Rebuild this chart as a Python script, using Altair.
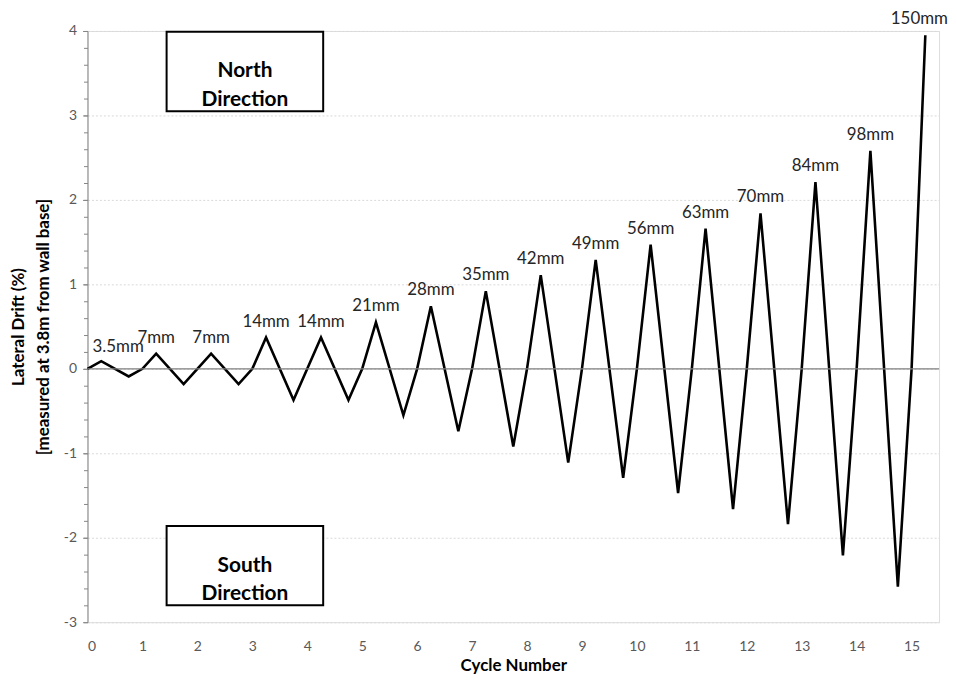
import altair as alt
import pandas as pd

# Cycle position and lateral drift (%)
cycle = [0, 0.25, 0.75, 1, 1.25, 1.75, 2, 2.25, 2.75, 3, 3.25, 3.75, 4, 4.25, 4.75, 5,
         5.25, 5.75, 6, 6.25, 6.75, 7, 7.25, 7.75, 8, 8.25, 8.75, 9, 9.25, 9.75, 10,
         10.25, 10.75, 11, 11.25, 11.75, 12, 12.25, 12.75, 13, 13.25, 13.75, 14,
         14.25, 14.75, 15, 15.25]
drift = [0, 0.09, -0.09, 0, 0.18, -0.18, 0, 0.18, -0.18, 0, 0.37, -0.37, 0, 0.37, -0.37, 0,
         0.55, -0.55, 0, 0.74, -0.74, 0, 0.92, -0.92, 0, 1.11, -1.11, 0, 1.29, -1.29, 0,
         1.47, -1.47, 0, 1.66, -1.66, 0, 1.84, -1.84, 0, 2.21, -2.21, 0,
         2.58, -2.58, 0, 3.95]

# Peak annotations
peak_x = [0.25, 1.25, 2.25, 3.25, 4.25, 5.25, 6.25, 7.25, 8.25, 9.25, 10.25, 11.25,
          12.25, 13.25, 14.25, 15.25]
peak_y = [0.09, 0.18, 0.18, 0.37, 0.37, 0.55, 0.74, 0.92, 1.11, 1.29, 1.47, 1.66,
          1.84, 2.21, 2.58, 3.95]
peak_label = ["3.5mm", "7mm", "7mm", "14mm", "14mm", "21mm", "28mm", "35mm", "42mm",
              "49mm", "56mm", "63mm", "70mm", "84mm", "98mm", "150mm"]

# Direction boxes
box_text = [["North", "Direction"], ["South", "Direction"]]
box_x1 = [1.44, 1.44]
box_x2 = [4.29, 4.29]
box_y1 = [3.05, -2.80]
box_y2 = [3.99, -1.86]

y_ticks = [-3, -2, -1, 0, 1, 2, 3, 4]
y_minor = [round(-3 + 0.2 * i, 1) for i in range(36)]
x_ticks = list(range(16))

FONT = "Lato"
MINUS = "datum.value < 0 ? '-' + abs(datum.value) : '' + datum.value"

df = pd.DataFrame({"cycle": cycle, "drift": drift})
peaks = pd.DataFrame({"x": peak_x, "y": peak_y, "label": peak_label})
boxes = pd.DataFrame({"x1": box_x1, "x2": box_x2, "y1": box_y1, "y2": box_y2,
                      "xc": [(a + b) / 2 for a, b in zip(box_x1, box_x2)],
                      "yc": [(a + b) / 2 for a, b in zip(box_y1, box_y2)],
                      "text": box_text})
zero = pd.DataFrame({"y": [0]})

xscale = alt.Scale(domain=[0, 15.5], nice=False, zero=False)
yscale = alt.Scale(domain=[-3, 4], nice=False)

x_axis = alt.Axis(values=x_ticks, title="Cycle Number", grid=False, ticks=False,
                  domain=False, labelFont=FONT, labelFontSize=14, labelColor="#595959",
                  labelPadding=17, titleFont=FONT, titleFontSize=17, titleFontWeight="bold",
                  titleColor="#000000", titlePadding=5)
y_axis = alt.Axis(values=y_ticks, title=["Lateral Drift (%)", "[measured at 3.8m from wall base]"],
                  grid=True, gridColor="#d9d9d9", gridDash=[2, 2], gridWidth=1,
                  domainColor="#868686", tickColor="#868686", tickSize=5,
                  labelFont=FONT, labelFontSize=14, labelColor="#595959", labelPadding=6,
                  labelExpr=MINUS,
                  titleFont=FONT, titleFontSize=17, titleFontWeight="bold",
                  titleColor="#000000", titlePadding=11, titleLineHeight=25)
y_minor_axis = alt.Axis(values=y_minor, orient="left", title=None, labels=False, grid=False,
                        domain=False, tickColor="#868686", tickSize=4)


def X(field):
    return alt.X(field, scale=xscale, axis=None)


def Y(field):
    return alt.Y(field, scale=yscale, axis=None)


line = alt.Chart(df).mark_line(color="black", strokeWidth=2.6, strokeJoin="miter").encode(
    x=alt.X("cycle:Q", scale=xscale, axis=x_axis),
    y=alt.Y("drift:Q", scale=yscale, axis=y_axis),
    order="cycle:Q",
)

minor = alt.Chart(df).mark_point(opacity=0).encode(
    x=X("cycle:Q"),
    y=alt.Y("drift:Q", scale=yscale, axis=y_minor_axis),
)

zero_rule = alt.Chart(zero).mark_rule(color="#7f7f7f", strokeWidth=1.2).encode(
    y=Y("y:Q")
)

label_style = dict(font=FONT, fontSize=17, color="#262626", baseline="bottom")

first_label = alt.Chart(peaks.iloc[:1]).mark_text(dy=-5, dx=17, **label_style).encode(
    x=X("x:Q"), y=Y("y:Q"), text="label:N")

mid_labels = alt.Chart(peaks.iloc[1:-1]).mark_text(dy=-7, **label_style).encode(
    x=X("x:Q"), y=Y("y:Q"), text="label:N")

last_label = alt.Chart(peaks.iloc[-1:]).mark_text(dy=-7, dx=-6, **label_style).encode(
    x=X("x:Q"), y=Y("y:Q"), text="label:N")

rects = alt.Chart(boxes).mark_rect(fill="white", stroke="black", strokeWidth=2).encode(
    x=X("x1:Q"), x2="x2:Q",
    y=Y("y1:Q"), y2="y2:Q",
)

box_labels = alt.Chart(boxes).mark_text(
    font=FONT, fontSize=21, fontWeight="bold", color="black", lineHeight=29,
    baseline="middle", align="center"
).encode(x=X("xc:Q"), y=Y("yc:Q"), text="text")

chart = alt.layer(
    line, minor, zero_rule, first_label, mid_labels, last_label, rects, box_labels
).resolve_axis(x="independent", y="independent").properties(
    width=857, height=595,
    autosize=alt.AutoSizeParams(type="none"),
    padding={"left": 80, "top": 21, "right": 10, "bottom": 51},
).configure_view(stroke=None).configure(background="white")

chart.save("out.html", embed_options={"renderer": "svg", "actions": False})
